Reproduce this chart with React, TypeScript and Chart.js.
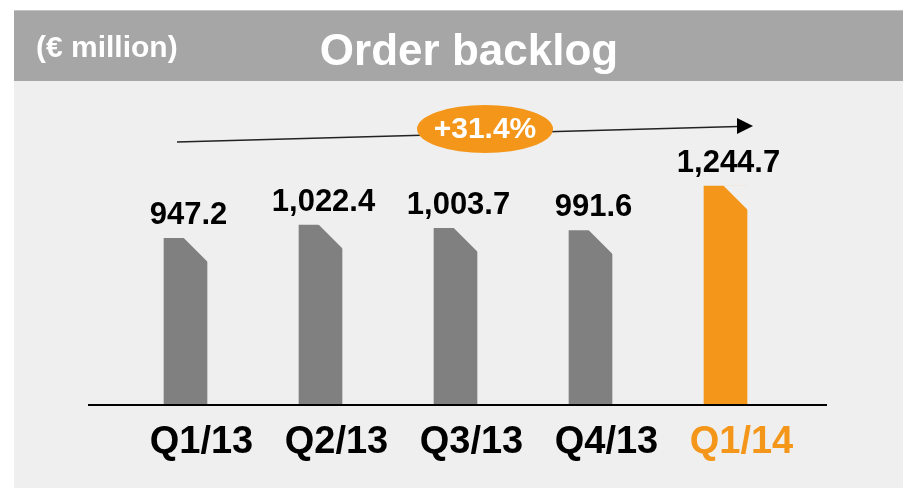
import React, { useEffect, useRef } from 'react';
import { Chart, registerables } from 'chart.js';

Chart.register(...registerables);

const categories = ['Q1/13', 'Q2/13', 'Q3/13', 'Q4/13', 'Q1/14'];
const orderBacklog = [947.2, 1022.4, 1003.7, 991.6, 1244.7];
const valueLabels = ['947.2', '1,022.4', '1,003.7', '991.6', '1,244.7'];
const growthLabel = '+31.4%';
const unitLabel = '(€ million)';
const titleText = 'Order backlog';

const GRAY = '#808080';
const ORANGE = '#f39619';
const PANEL = '#efefef';
const HEADER = '#a6a6a6';
const FONT = '"Liberation Sans", Arial, Helvetica, sans-serif';

const decorPlugin = {
  id: 'decor',
  beforeDraw(chart: any) {
    const ctx = chart.ctx;
    const W = chart.width;
    const H = chart.height;
    ctx.save();
    ctx.fillStyle = '#ffffff';
    ctx.fillRect(0, 0, W, H);
    ctx.fillStyle = PANEL;
    ctx.fillRect(14, 81, W - 14, H - 81);
    ctx.fillStyle = HEADER;
    ctx.fillRect(14, 10, W - 14, 71);
    ctx.fillStyle = '#c4c4c4';
    ctx.fillRect(14, 10, W - 14, 1);
    ctx.fillStyle = '#ffffff';
    ctx.textBaseline = 'alphabetic';
    ctx.textAlign = 'left';
    ctx.font = `bold 30px ${FONT}`;
    ctx.fillText(unitLabel, 36, 57);
    ctx.textAlign = 'center';
    ctx.font = `bold 44px ${FONT}`;
    ctx.fillText(titleText, 469, 65);
    ctx.restore();
  },
  afterDatasetsDraw(chart: any) {
    const ctx = chart.ctx;
    const meta = chart.getDatasetMeta(0);
    const base = chart.scales.y.getPixelForValue(0);
    const area = chart.chartArea;
    ctx.save();
    meta.data.forEach((bar: any, i: number) => {
      const { x, y, width } = bar.getProps(['x', 'y', 'width'], true);
      const right = x + width / 2;
      const cut = 24;
      ctx.fillStyle = PANEL;
      ctx.beginPath();
      ctx.moveTo(right - cut, y - 1);
      ctx.lineTo(right + 1, y - 1);
      ctx.lineTo(right + 1, y + cut);
      ctx.closePath();
      ctx.fill();
      ctx.fillStyle = '#000000';
      ctx.font = `bold 31px ${FONT}`;
      ctx.textAlign = 'center';
      ctx.textBaseline = 'alphabetic';
      ctx.fillText(valueLabels[i], x + 3, y - 14);
    });
    // baseline
    ctx.strokeStyle = '#000000';
    ctx.lineWidth = 2;
    ctx.beginPath();
    ctx.moveTo(area.left - 30, base + 1);
    ctx.lineTo(area.right + 34, base + 1);
    ctx.stroke();
    // growth arrow
    ctx.strokeStyle = '#222222';
    ctx.lineWidth = 1.5;
    ctx.beginPath();
    ctx.moveTo(177, 142);
    ctx.lineTo(738, 126.5);
    ctx.stroke();
    ctx.fillStyle = '#000000';
    ctx.beginPath();
    ctx.moveTo(753, 126);
    ctx.lineTo(737, 118);
    ctx.lineTo(737, 134);
    ctx.closePath();
    ctx.fill();
    // growth bubble
    ctx.fillStyle = ORANGE;
    ctx.beginPath();
    ctx.ellipse(485, 129, 68, 24, 0, 0, Math.PI * 2);
    ctx.fill();
    ctx.fillStyle = '#ffffff';
    ctx.font = `bold 30px ${FONT}`;
    ctx.textAlign = 'center';
    ctx.textBaseline = 'middle';
    ctx.fillText(growthLabel, 485, 130);
    ctx.restore();
  },
};

export default function App() {
  const canvasRef = useRef<HTMLCanvasElement | null>(null);

  useEffect(() => {
    if (!canvasRef.current) return;
    const chart = new Chart(canvasRef.current, {
      type: 'bar',
      data: {
        labels: categories,
        datasets: [
          {
            data: orderBacklog,
            backgroundColor: categories.map((_, i) => (i === categories.length - 1 ? ORANGE : GRAY)),
            borderWidth: 0,
            barThickness: 43,
          },
        ],
      },
      options: {
        animation: false,
        responsive: false,
        layout: { padding: { left: 118, right: 110, top: 159, bottom: 0 } },
        plugins: {
          legend: { display: false },
          tooltip: { enabled: false },
        },
        scales: {
          x: {
            grid: { display: false, drawTicks: false },
            border: { display: false },
            ticks: {
              font: { family: FONT, weight: 'bold', size: 38 },
              color: (c: any) => (c.index === categories.length - 1 ? ORANGE : '#000000'),
              padding: 16,
              labelOffset: 16,
              maxRotation: 0,
              autoSkip: false,
            },
            afterFit: (s: any) => {
              s.height = 84;
            },
          },
          y: { display: false, min: 0, max: 1400 },
        },
      },
      plugins: [decorPlugin],
    } as any);
    return () => chart.destroy();
  }, []);

  return (
    <div style={{ position: 'fixed', left: 0, top: 0, width: 903, height: 488 }}>
      <canvas ref={canvasRef} width={903} height={488} style={{ display: 'block' }} />
    </div>
  );
}
